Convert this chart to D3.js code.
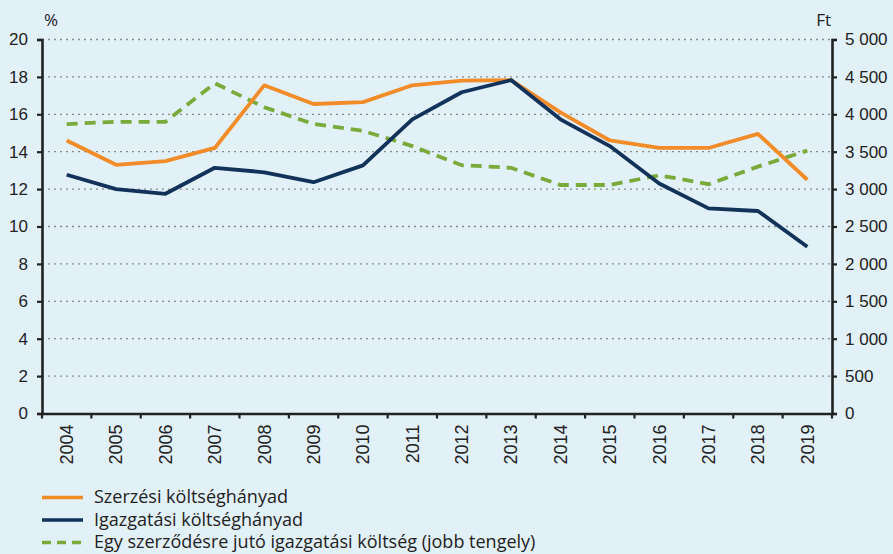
<!DOCTYPE html>
<html>
<head>
<meta charset="utf-8">
<script src="https://cdn.jsdelivr.net/npm/d3@7"></script>
<style>
  body { margin: 0; background: #e2f0f8; }
  svg { display: block; font-family: "Open Sans", "Noto Sans", sans-serif; }
  .tick text { fill: #222; }
</style>
</head>
<body>
<svg width="893" height="554"></svg>
<script>
var years = ["2004","2005","2006","2007","2008","2009","2010","2011","2012","2013","2014","2015","2016","2017","2018","2019"];
// %, left axis
var szerzesi = [14.6, 13.3, 13.5, 14.2, 17.55, 16.55, 16.65, 17.55, 17.8, 17.83, 16.1, 14.6, 14.2, 14.2, 14.95, 12.5];
var igazgatasi = [12.77, 12.0, 11.75, 13.14, 12.9, 12.37, 13.27, 15.73, 17.18, 17.83, 15.73, 14.3, 12.3, 10.97, 10.83, 8.92];
// Ft, right axis
var egySzerzodes = [3870, 3900, 3900, 4415, 4095, 3870, 3780, 3575, 3320, 3285, 3055, 3055, 3185, 3065, 3300, 3515];

var leftTicks = [0, 2, 4, 6, 8, 10, 12, 14, 16, 18, 20];
var rightTicks = [0, 500, 1000, 1500, 2000, 2500, 3000, 3500, 4000, 4500, 5000];

var legendItems = [
  { name: "Szerzési költséghányad", color: "#f28c28", dash: null },
  { name: "Igazgatási költséghányad", color: "#12325a", dash: null },
  { name: "Egy szerződésre jutó igazgatási költség (jobb tengely)", color: "#7aab3a", dash: "11,7" }
];

(function() {
  var svg = d3.select("svg"),
      pLeft = 42, pRight = 832, pTop = 39.5, pBottom = 413.5;

  var x = d3.scaleBand().domain(years).range([pLeft, pRight]);
  var yL = d3.scaleLinear().domain([0, 20]).range([pBottom, pTop]);
  var yR = d3.scaleLinear().domain([0, 5000]).range([pBottom, pTop]);

  // gridlines
  svg.append("g").selectAll("line")
    .data(leftTicks.filter(function(d) { return d > 0; }))
    .enter().append("line")
      .attr("x1", pLeft).attr("x2", pRight)
      .attr("y1", function(d) { return yL(d); })
      .attr("y2", function(d) { return yL(d); })
      .style("stroke", "#8a8a8a")
      .style("stroke-width", 1.3)
      .style("stroke-dasharray", "2,4");

  var line = function(yScale) {
    return d3.line()
      .x(function(d, i) { return x(years[i]) + x.bandwidth() / 2; })
      .y(function(d) { return yScale(d); });
  };

  svg.append("path").datum(egySzerzodes)
    .attr("d", line(yR))
    .style("fill", "none").style("stroke", legendItems[2].color)
    .style("stroke-width", 3.8).style("stroke-dasharray", "11,7");

  svg.append("path").datum(szerzesi)
    .attr("d", line(yL))
    .style("fill", "none").style("stroke", legendItems[0].color)
    .style("stroke-width", 3.8).style("stroke-linejoin", "round");

  svg.append("path").datum(igazgatasi)
    .attr("d", line(yL))
    .style("fill", "none").style("stroke", legendItems[1].color)
    .style("stroke-width", 3.8).style("stroke-linejoin", "round");

  // axes
  var gl = svg.append("g")
    .attr("transform", "translate(" + pLeft + ",0)")
    .call(d3.axisLeft(yL).tickValues(leftTicks).tickSize(5).tickPadding(9));
  var gr = svg.append("g")
    .attr("transform", "translate(" + pRight + ",0)")
    .call(d3.axisRight(yR).tickValues(rightTicks).tickSize(5).tickPadding(8)
      .tickFormat(function(d) { return d3.format(",")(d).replace(/,/g, " "); }));
  var gb = svg.append("g")
    .attr("transform", "translate(0," + pBottom + ")")
    .call(d3.axisBottom(x).tickSize(0).tickPadding(0));

  [gl, gr].forEach(function(g) {
    g.select(".domain").style("stroke", "#222").style("stroke-width", 2.6);
    g.selectAll(".tick line").style("stroke", "#222").style("stroke-width", 2.2);
    g.selectAll(".tick text").style("font-size", "17px");
  });

  gb.select(".domain").style("stroke", "#222").style("stroke-width", 2.6);
  gb.selectAll(".tick text")
    .style("font-size", "18px")
    .attr("transform", "rotate(-90)")
    .attr("text-anchor", "end")
    .attr("x", -11).attr("y", 0).attr("dy", "0.35em");

  // bottom tick marks at category edges
  svg.append("g").selectAll("line")
    .data(d3.range(years.length + 1))
    .enter().append("line")
      .attr("x1", function(i) { return pLeft + i * x.step(); })
      .attr("x2", function(i) { return pLeft + i * x.step(); })
      .attr("y1", pBottom).attr("y2", pBottom + 5)
      .style("stroke", "#222").style("stroke-width", 2.2);

  // unit labels
  svg.append("text").attr("x", 44).attr("y", 26).text("%")
    .style("font-size", "17px").style("fill", "#222");
  svg.append("text").attr("x", 831).attr("y", 26).attr("text-anchor", "end").text("Ft")
    .style("font-size", "17px").style("fill", "#222");

  // legend
  var lg = svg.append("g").selectAll("g")
    .data(legendItems)
    .enter().append("g")
      .attr("transform", function(d, i) { return "translate(42," + (497.5 + i * 22.5) + ")"; });
  lg.append("line")
    .attr("x1", 0).attr("x2", 41)
    .style("stroke", function(d) { return d.color; })
    .style("stroke-width", 3.6)
    .style("stroke-dasharray", function(d) { return d.dash ? "9,6" : null; });
  lg.append("text")
    .attr("x", 52).attr("dy", "0.32em")
    .style("font-size", "18px").style("fill", "#222")
    .text(function(d) { return d.name; });
})();
</script>
</body>
</html>
